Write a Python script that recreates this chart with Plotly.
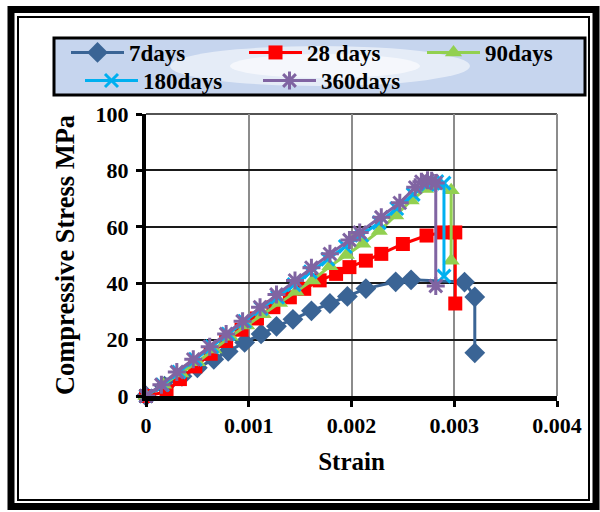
import plotly.graph_objects as go

# ---------------- data ----------------
strain_7 = [0, 0.00018, 0.00035, 0.0005, 0.00066, 0.0008, 0.00096, 0.00112, 0.00127, 0.00143,
            0.00161, 0.00179, 0.00196, 0.00214, 0.00243, 0.00258, 0.0031, 0.0032, 0.0032]
stress_7 = [0, 3.5, 7, 10, 13, 15.8, 19, 22, 24.7, 27.2, 30.2, 32.8, 35.3, 38.1, 40.5, 41.2,
            40.4, 35.1, 15.3]

strain_28 = [0, 0.0002, 0.00033, 0.00048, 0.00063, 0.00078, 0.00093, 0.00108, 0.00124, 0.0014,
             0.00154, 0.00169, 0.00185, 0.00198, 0.00214, 0.00229, 0.0025, 0.00273, 0.00289,
             0.00301, 0.00301]
stress_28 = [0, 1.5, 6, 10.5, 15, 19.5, 23.5, 27.5, 31.5, 35, 38, 41, 43.3, 45.7, 48, 50.4,
             53.9, 56.9, 58, 58, 32.8]

strain_90 = [0, 0.00017, 0.00034, 0.0005, 0.00066, 0.00082, 0.00098, 0.00114, 0.0013, 0.00146,
             0.00162, 0.00179, 0.00195, 0.00211, 0.00227, 0.00243, 0.00258, 0.00272, 0.00285,
             0.00297, 0.00297]
stress_90 = [0, 4, 8, 12, 16.5, 21, 25, 29, 33, 37, 41, 46, 50, 54, 58.5, 64, 69.3, 73.4,
             74.5, 73, 48]

strain_180 = [0, 0.00016, 0.00032, 0.00048, 0.00064, 0.0008, 0.00096, 0.00112, 0.00128,
              0.00144, 0.0016, 0.00177, 0.00194, 0.0021, 0.00227, 0.00244, 0.0026, 0.00274,
              0.00283, 0.0029, 0.0029]
stress_180 = [0, 4, 8.5, 13, 17.5, 22, 26.5, 31, 35, 39.5, 44, 48.5, 53, 57, 61.5, 66.5, 71.5,
              75, 76, 75.5, 42.5]

strain_360 = [0, 0.00015, 0.0003, 0.00046, 0.00062, 0.00078, 0.00094, 0.00111, 0.00127,
              0.00145, 0.00161, 0.00179, 0.00198, 0.00208, 0.00229, 0.00247, 0.00262, 0.00268,
              0.00274, 0.00278, 0.00282, 0.00282]
stress_360 = [0, 4, 8.5, 13, 17.5, 22, 26.5, 31.5, 36, 41, 45.5, 50.4, 55.3, 58, 63.4, 68.5,
              74, 76, 76.5, 76.3, 75.5, 39]

x_tickvals = [0, 0.001, 0.002, 0.003, 0.004]
x_ticktext = ["0", "0.001", "0.002", "0.003", "0.004"]
y_tickvals = [0, 20, 40, 60, 80, 100]

# ---------------- layout geometry (pixels) ----------------
W, H = 600, 512
L, R, T, B = 146, 43, 114, 116
PW, PH = W - L - R, H - T - B


def px(xp):
    return (xp - L) / PW


def py(yp):
    return (H - B - yp) / PH


FONT = "Liberation Serif"

series = [
    ("7days", strain_7, stress_7, "#3A6495", "diamond", 16, 0, "legend"),
    ("28 days", strain_28, stress_28, "#FF0000", "square", 14, 0, "legend"),
    ("90days", strain_90, stress_90, "#92D050", "triangle-up", 15, 0, "legend"),
    ("180days", strain_180, stress_180, "#00B0F0", "x-thin-open", 13, 3, "legend2"),
    ("360days", strain_360, stress_360, "#8064A2", "asterisk-open", 15, 3, "legend2"),
]

fig = go.Figure()
for name, xs, ys, col, sym, sz, lw, leg in series:
    marker = dict(symbol=sym, size=sz, color=col)
    if lw:
        marker["line"] = dict(color=col, width=lw)
    fig.add_trace(go.Scatter(
        x=xs, y=ys, name=name, mode="lines+markers", legend=leg,
        line=dict(color=col, width=3), marker=marker, cliponaxis=False,
    ))

shapes = [
    # outer thick frame
    dict(type="rect", xref="paper", yref="paper", x0=px(11), x1=px(596), y0=py(9.5), y1=py(506.5),
         line=dict(color="black", width=7), layer="below"),
    # inner thin frame
    dict(type="rect", xref="paper", yref="paper", x0=px(18), x1=px(589), y0=py(17), y1=py(500),
         line=dict(color="black", width=2), layer="below"),
    # legend background
    dict(type="rect", xref="paper", yref="paper", x0=px(54), x1=px(585), y0=py(38), y1=py(95),
         fillcolor="#C6D5EE", line=dict(width=0), layer="below"),
    dict(type="circle", xref="paper", yref="paper", x0=px(170), x1=px(470), y0=py(46), y1=py(86),
         fillcolor="rgba(255,255,255,0.55)", line=dict(width=0), layer="below"),
    dict(type="circle", xref="paper", yref="paper", x0=px(230), x1=px(420), y0=py(54), y1=py(78),
         fillcolor="rgba(255,255,255,0.6)", line=dict(width=0), layer="below"),
    dict(type="rect", xref="paper", yref="paper", x0=px(54), x1=px(585), y0=py(38), y1=py(95),
         line=dict(color="black", width=3), layer="below"),
    # grid lines at the range edges (top and right)
    dict(type="line", xref="paper", yref="paper", x0=0, x1=1, y0=1, y1=1,
         line=dict(color="#1A1A1A", width=1.5), layer="below"),
    dict(type="line", xref="paper", yref="paper", x0=1, x1=1, y0=0, y1=1,
         line=dict(color="#8C8C8C", width=2), layer="below"),
]

legend_common = dict(
    orientation="h", xanchor="left", yanchor="top",
    bgcolor="rgba(0,0,0,0)", borderwidth=0,
    font=dict(family=FONT, size=23, color="black", weight="bold"),
    entrywidth=110, entrywidthmode="pixels", itemwidth=53,
    tracegroupgap=0,
)

fig.update_layout(
    width=W, height=H,
    margin=dict(l=L, r=R, t=T, b=B),
    paper_bgcolor="white", plot_bgcolor="white",
    font=dict(family=FONT, color="black", size=22, weight="bold"),
    shapes=shapes,
    legend=dict(x=px(80), y=py(31), **legend_common),
    legend2=dict(x=px(80), y=py(59), **legend_common),
    xaxis=dict(
        range=[0, 0.004], tickvals=x_tickvals, ticktext=x_ticktext,
        showgrid=True, gridcolor="#8C8C8C", gridwidth=2, zeroline=False,
        showline=True, linecolor="black", linewidth=5,
        ticks="outside", ticklen=6, tickwidth=3, tickcolor="black",
        tickfont=dict(family=FONT, size=22, weight="bold"),
        title=dict(text="Strain", font=dict(family=FONT, size=25, weight="bold"), standoff=17),
    ),
    yaxis=dict(
        range=[0, 100], tickvals=y_tickvals,
        showgrid=True, gridcolor="#1A1A1A", gridwidth=1.5, zeroline=False,
        showline=True, linecolor="black", linewidth=4,
        ticks="outside", ticklen=6, tickwidth=3, tickcolor="black",
        ticklabelstandoff=3,
        tickfont=dict(family=FONT, size=22, weight="bold"),
        title=dict(text="Compressive Stress MPa", font=dict(family=FONT, size=26.5, weight="bold"),
                   standoff=14),
    ),
)

fig.write_html("out.html")
